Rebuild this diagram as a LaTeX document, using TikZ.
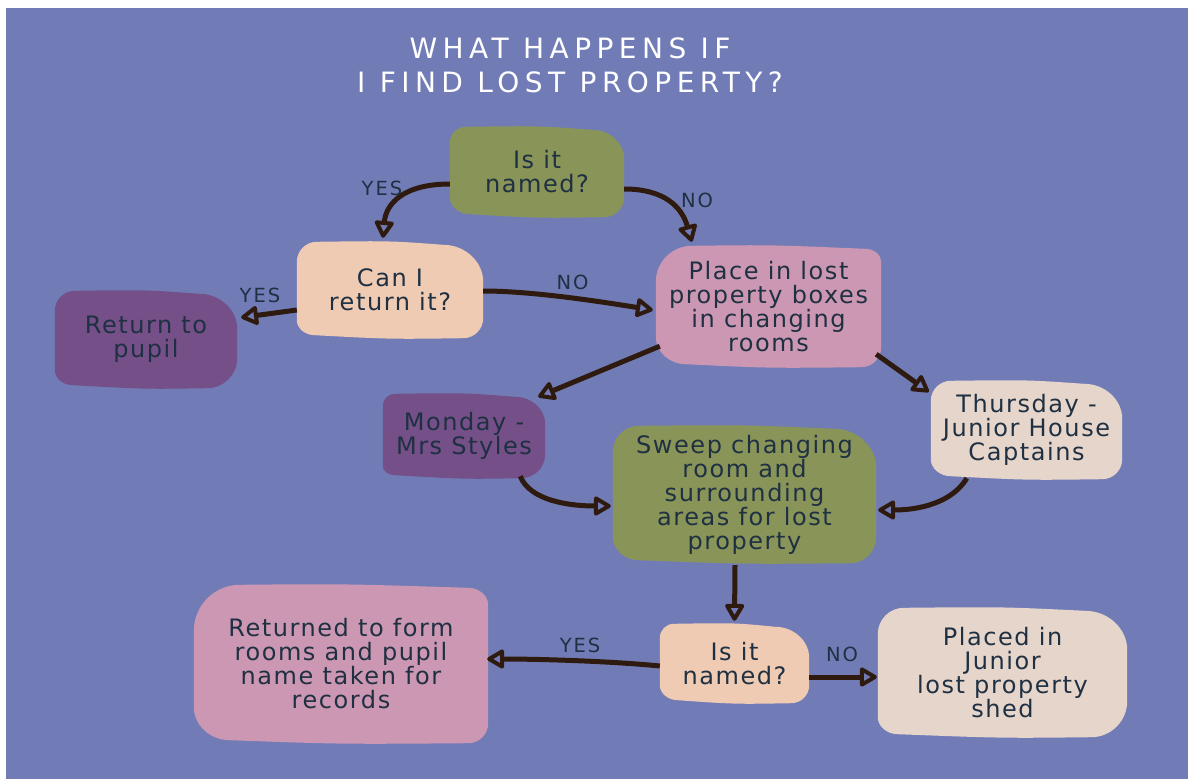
\documentclass[tikz,border=0pt]{standalone}
\usepackage{fontspec}
\usetikzlibrary{arrows.meta,calc,backgrounds}
\newfontfamily\boxfont{DejaVu Sans}[LetterSpace=6.5]
\newfontfamily\titlefont{DejaVu Sans}[LetterSpace=19.5]
\newfontfamily\lblfont{DejaVu Sans}[LetterSpace=10]
\definecolor{bgc}{HTML}{717CB7}
\definecolor{cgreen}{HTML}{899459}
\definecolor{cpeach}{HTML}{EFCBB3}
\definecolor{cpink}{HTML}{CC97B2}
\definecolor{cpurple}{HTML}{744F88}
\definecolor{cbeige}{HTML}{E6D5CA}
\definecolor{ctext}{HTML}{1E3042}
\definecolor{carrow}{HTML}{2E1A0E}
\newcommand\blob[6]{%
 \fill[#2] ($(#1.north west)+(0,#3)$)
   .. controls ($(#1.north west)+(0,0.45*#3)$) and ($(#1.north west)+(0.45*#3,0)$) .. ($(#1.north west)+(#3,0)$)
   .. controls ($(#1.north)+(0,-1)$) .. ($(#1.north east)+(-#4,3)$)
   .. controls ($(#1.north east)+(-0.45*#4,3)$) and ($(#1.north east)+(0,0.45*#4+2)$) .. ($(#1.north east)+(0,#4)$)
   -- ($(#1.south east)+(0,-#5)$)
   .. controls ($(#1.south east)+(0,-0.45*#5)$) and ($(#1.south east)+(-0.45*#5,0)$) .. ($(#1.south east)+(-#5,0)$)
   .. controls ($(#1.south)+(0,1)$) .. ($(#1.south west)+(#6,-3)$)
   .. controls ($(#1.south west)+(0.45*#6,-3)$) and ($(#1.south west)+(0,-0.45*#6-2)$) .. ($(#1.south west)+(0,-#6)$)
   -- cycle;}
\begin{document}
\begin{tikzpicture}[x=1pt,y=-1pt,
  box/.style={inner sep=0pt, align=center, text=ctext,
    font=\boxfont\fontsize{24}{24}\selectfont},
  lbl/.style={inner sep=0pt, text=ctext, font=\lblfont\fontsize{19.5}{20}\selectfont},
  arr/.style={draw=carrow, line width=5pt, line join=round,
    -{Triangle[open,round,length=19pt,width=21pt,line width=4pt]}}]
\useasboundingbox (0,0) rectangle (1188,779);
% title
\node[inner sep=0pt, align=center, text=white,
  font=\titlefont\fontsize{28}{34}\selectfont] (title) at (570,65) {WHAT HAPPENS IF\\I FIND LOST PROPERTY?};
% nodes
\node[box, minimum width=174pt, minimum height=90pt] (n1) at (537,172) {Is it\\named?};
\node[box, minimum width=186pt, minimum height=96pt] (n2) at (390,290) {Can I\\return it?};
\node[box, minimum width=182pt, minimum height=97pt] (n3) at (146,339.5) {Return to\\pupil};
\node[box, minimum width=225pt, minimum height=121pt] (n4) at (768.5,306.5) {Place in lost\\property boxes\\in changing\\rooms};
\node[box, minimum width=162pt, minimum height=84pt] (n5) at (464,436) {Monday -\\Mrs Styles};
\node[box, minimum width=263pt, minimum height=137pt] (n6) at (744.5,494.5) {Sweep changing\\room and\\surrounding\\areas for lost\\property};
\node[box, minimum width=191pt, minimum height=98pt] (n7) at (1026.5,430) {Thursday -\\Junior House\\Captains};
\node[box, minimum width=294pt, minimum height=158pt] (n8) at (341,664) {Returned to form\\rooms and pupil\\name taken for\\records};
\node[box, minimum width=149pt, minimum height=79pt] (n9) at (734.5,663.5) {Is it\\named?};
\node[box, minimum width=249pt, minimum height=129pt] (n10) at (1002.5,672.5) {Placed in\\Junior\\lost property\\shed};
% shapes
\begin{pgfonlayer}{background}
\fill[bgc] (6,8) rectangle (1188,779);
\blob{n1}{cgreen}{16}{32}{20}{20}
\blob{n2}{cpeach}{20}{40}{20}{18}
\blob{n3}{cpurple}{20}{38}{30}{18}
\blob{n4}{cpink}{36}{16}{20}{30}
\blob{n5}{cpurple}{12}{30}{24}{12}
\blob{n6}{cgreen}{26}{42}{26}{26}
\blob{n7}{cbeige}{20}{38}{20}{20}
\blob{n8}{cpink}{46}{20}{20}{36}
\blob{n9}{cpeach}{14}{34}{18}{18}
\blob{n10}{cbeige}{26}{42}{36}{20}
\end{pgfonlayer}
% connectors
\draw[arr] ($(n1.west)+(0,12)$) .. controls +(-45,0) and +(3,-35) .. ($(n2.north)+(-7,-4)$);
\draw[arr] ($(n1.east)+(0,17)$) .. controls +(40,0) and +(-10,-35) .. ($(n4.north west)+(36,-4)$);
\draw[arr] ($(n2.west)+(0,20)$) -- ($(n3.east)+(4,-22)$);
\draw[arr] ($(n2.east)+(0,1)$) .. controls +(50,0) and +(-50,-8) .. ($(n4.west)+(-3,3.5)$);
\draw[arr] ($(n4.south west)+(4,-21)$) -- ($(n5.north east)+(-7,3)$);
\draw[arr] ($(n4.south east)+(-5,-13)$) -- ($(n7.north west)+(-2,11)$);
\draw[arr] ($(n5.south east)+(-25,-2)$) .. controls +(10,25) and +(-40,0) .. ($(n6.west)+(-2,11.5)$);
\draw[arr] ($(n7.south west)+(36,-1)$) .. controls +(-15,25) and +(40,0) .. ($(n6.east)+(2,15.5)$);
\draw[arr] ($(n6.south)+(-9.5,2)$) -- ($(n9.north)+(0,-3)$);
\draw[arr] ($(n9.west)+(0,2.5)$) .. controls +(-50,-5) and +(50,0) .. ($(n8.east)+(-1,-5)$);
\draw[arr] ($(n9.east)+(0,13.5)$) -- ($(n10.west)+(-1,4.5)$);
% labels
\node[lbl] (l1) at (382,188.5) {YES};
\node[lbl] (l2) at (697,200) {NO};
\node[lbl] (l3) at (260,295.5) {YES};
\node[lbl] (l4) at (572.5,282.5) {NO};
\node[lbl] (l5) at (580,645.5) {YES};
\node[lbl] (l6) at (842,654.5) {NO};
\end{tikzpicture}
\end{document}
